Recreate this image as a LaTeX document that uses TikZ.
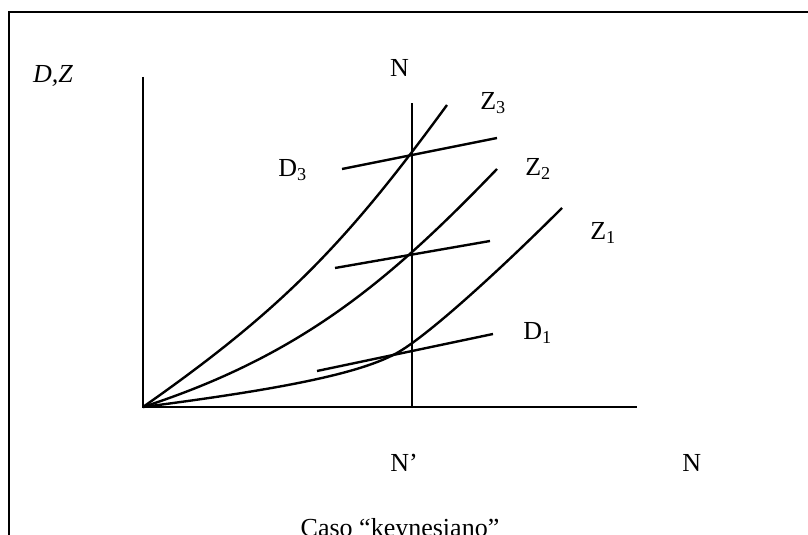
\documentclass[tikz,border=0pt]{standalone}
\usepackage{fontspec}
\setmainfont{Liberation Serif}
\usetikzlibrary{positioning}

\begin{document}
\begin{tikzpicture}[
    every node/.style={font=\fontsize{18.5}{22}\selectfont, inner sep=0pt},
    lbl/.style={anchor=base west},
    axis/.style={line width=1.7pt},
    curve/.style={line width=1.7pt, line join=round},
]
    % Page area; the frame runs off the right and bottom edges.
    \clip (-3.575, -3.2) rectangle (16.625, 10.175);
    \draw[line width=1.7pt] (-3.35, 9.875) rectangle (18, -5);

    % Axes and the vertical line at N'.
    \coordinate (O) at (0, 0);
    \draw[axis] (0, 8.25) |- (12.35, 0);
    \draw[axis] (6.725, 0) -- (6.725, 7.6);

    % Z curves, all leaving the origin.
    \draw[curve] (O) .. controls (3.5, 2.45) and (5.1, 4.125) .. (7.6, 7.55);
    \draw[curve] (O) .. controls (4, 1.3) and (6.2, 3.2) .. (8.85, 5.95);
    \draw[curve] (O) .. controls (3.5, 0.45) and (5.5, 0.85) .. (6.4, 1.38)
                     .. controls (7.2, 1.85) and (9.0, 3.5) .. (10.475, 4.975);

    % D lines.
    \draw[curve] (4.975, 5.95) -- (8.85, 6.725);
    \draw[curve] (4.8, 3.475) -- (8.675, 4.15);
    \draw[curve] (4.35, 0.9) -- (8.75, 1.825);

    % Labels.
    \node[anchor=base] (dz) at (-2.25, 8.1) {\textit{D,Z}};
    \node[anchor=base] (ntop) at (6.41, 8.25) {N};
    \node[lbl] (d3) at (3.375, 5.75) {D\textsubscript{3}};
    \node[lbl] (z3) at (8.425, 7.425) {Z\textsubscript{3}};
    \node[lbl] (z2) at (9.55, 5.775) {Z\textsubscript{2}};
    \node[lbl] (z1) at (11.175, 4.175) {Z\textsubscript{1}};
    \node[lbl] (d1) at (9.5, 1.675) {D\textsubscript{1}};
    \node[lbl] (nprime) at (6.175, -1.625) {N’};
    \node[lbl] (nright) at (13.475, -1.625) {N};
    \node[anchor=base] (caption) at (6.425, -3.25) {Caso “keynesiano”};
\end{tikzpicture}
\end{document}
